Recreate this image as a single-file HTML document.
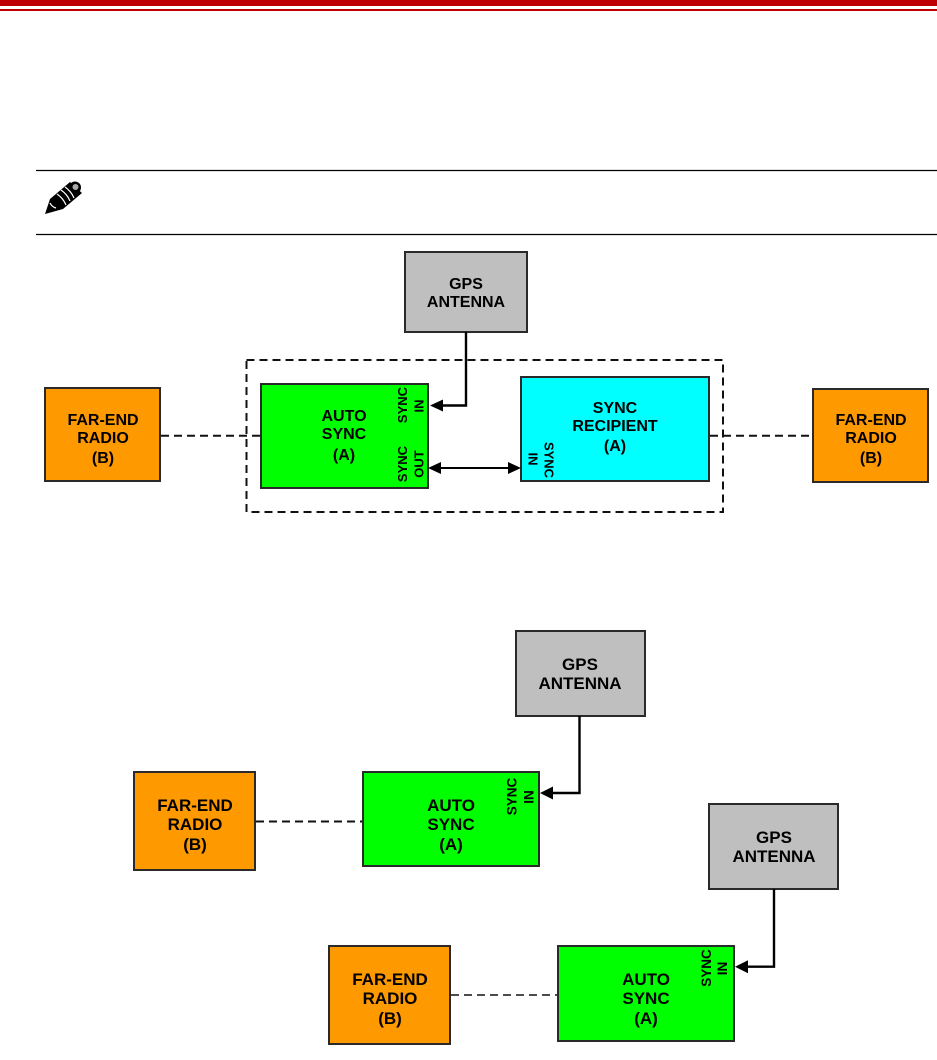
<!DOCTYPE html>
<html><head><meta charset="utf-8">
<style>html,body{margin:0;padding:0;background:#fff}svg{display:block}
text{font-family:"Liberation Sans",sans-serif;font-weight:bold;fill:#000;text-anchor:middle}
.a{font-size:16px}.b{font-size:17px}.s{font-size:13px}.t{font-size:13.5px}
rect{stroke:#2a2a2a;stroke-width:2}
.g{fill:#bfbfbf}.o{fill:#ff9900}.n{fill:#00ff00}.c{fill:#00ffff}
.l{fill:none;stroke:#000;stroke-width:2.400}
.d{fill:none;stroke:#111;stroke-width:2;stroke-dasharray:8 5}
</style></head><body>
<svg width="937" height="1060" viewBox="0 0 937 1060" xmlns="http://www.w3.org/2000/svg">
<path d="M0 0H937V6H0z" fill="#c00000"/><path d="M0 9H937V11H0z" fill="#c00000"/>
<path d="M36 170.500H937M36 234.500H937" stroke="#000" stroke-width="1.300" fill="none"/>
<g>
<path d="M45 214L50 199L70 182L82 193L63 209Z" fill="#000"/>
<circle cx="75" cy="187.500" r="6" fill="#000"/>
<circle cx="75.500" cy="187" r="3.500" fill="#aaa" stroke="#000"/>
<path d="M61 190Q67 194 70 201M65 187Q71 191 74 198M57 194Q63 198 66 205" stroke="#fff" stroke-width="1.200" fill="none"/>
<path d="M50 203Q52 207 56 208" stroke="#fff" stroke-width="1.300" fill="none"/>
</g>

<rect class="g" x="405" y="252" width="122" height="80"/>
<text class="a" x="466" y="289">GPS</text><text class="a" x="466" y="307">ANTENNA</text>
<path d="M246.500 360H723V512H246.500Z" class="d"/>
<path class="d" d="M161 435.700H261M710 435.700H813"/>
<rect class="n" x="261" y="384" width="167" height="104"/>
<text class="a" x="344" y="421">AUTO</text><text class="a" x="344" y="439">SYNC</text><text class="a" x="344" y="460">(A)</text>
<text class="s" transform="translate(407,405) rotate(-90)">SYNC</text>
<text class="s" transform="translate(423.500,406) rotate(-90)">IN</text>
<text class="s" transform="translate(407,464) rotate(-90)">SYNC</text>
<text class="s" transform="translate(423.500,464) rotate(-90)">OUT</text>
<rect class="c" x="521" y="377" width="188" height="104"/>
<text class="a" x="615" y="413">SYNC</text><text class="a" x="615" y="431">RECIPIENT</text><text class="a" x="615" y="451">(A)</text>
<text class="s" transform="translate(544.500,460) rotate(90)">SYNC</text>
<text class="s" transform="translate(528.500,459) rotate(90)">IN</text>
<path class="l" d="M466 332V405.500H440"/>
<path d="M430 405.500L443 399.500V411.500Z" fill="#000"/>
<path class="l" d="M438 468H511" style="stroke-width:2"/>
<path d="M428 468L441 462V474ZM521 468L508 462V474Z" fill="#000"/>
<rect class="o" x="45" y="388" width="115" height="93"/>
<text class="a" x="103" y="425">FAR-END</text><text class="a" x="103" y="443">RADIO</text><text class="a" x="103" y="463">(B)</text>
<rect class="o" x="813" y="389" width="115" height="93"/>
<text class="a" x="871" y="425">FAR-END</text><text class="a" x="871" y="443">RADIO</text><text class="a" x="871" y="463">(B)</text>

<rect class="g" x="516" y="631" width="129" height="85"/>
<text class="b" x="580" y="670">GPS</text><text class="b" x="580" y="689">ANTENNA</text>
<rect class="o" x="134" y="772" width="121" height="98"/>
<text class="b" x="195" y="811">FAR-END</text><text class="b" x="195" y="830">RADIO</text><text class="b" x="195" y="850">(B)</text>
<path class="d" d="M256 821.500H363"/>
<rect class="n" x="363" y="772" width="176" height="94"/>
<text class="b" x="451" y="811">AUTO</text><text class="b" x="451" y="830">SYNC</text><text class="b" x="451" y="850">(A)</text>
<text class="t" transform="translate(516.500,796.500) rotate(-90)">SYNC</text>
<text class="t" transform="translate(533.500,797) rotate(-90)">IN</text>
<path class="l" d="M579.500 716V793H550"/>
<path d="M540 793L553 786.500V799.500Z" fill="#000"/>

<rect class="g" x="709" y="804" width="129" height="85"/>
<text class="b" x="774" y="843">GPS</text><text class="b" x="774" y="862">ANTENNA</text>
<rect class="o" x="329" y="946" width="121" height="98"/>
<text class="b" x="390" y="985">FAR-END</text><text class="b" x="390" y="1004">RADIO</text><text class="b" x="390" y="1024">(B)</text>
<path d="M451 995H558" fill="none" stroke="#111" stroke-width="1.500" stroke-dasharray="8 5"/>
<rect class="n" x="558" y="946" width="176" height="95"/>
<text class="b" x="646" y="985">AUTO</text><text class="b" x="646" y="1004">SYNC</text><text class="b" x="646" y="1024">(A)</text>
<text class="t" transform="translate(711,968) rotate(-90)">SYNC</text>
<text class="t" transform="translate(727,968.500) rotate(-90)">IN</text>
<path class="l" d="M774 889V966.700H745"/>
<path d="M735 966.700L748 960.200V973.200Z" fill="#000"/>
</svg>
</body></html>
